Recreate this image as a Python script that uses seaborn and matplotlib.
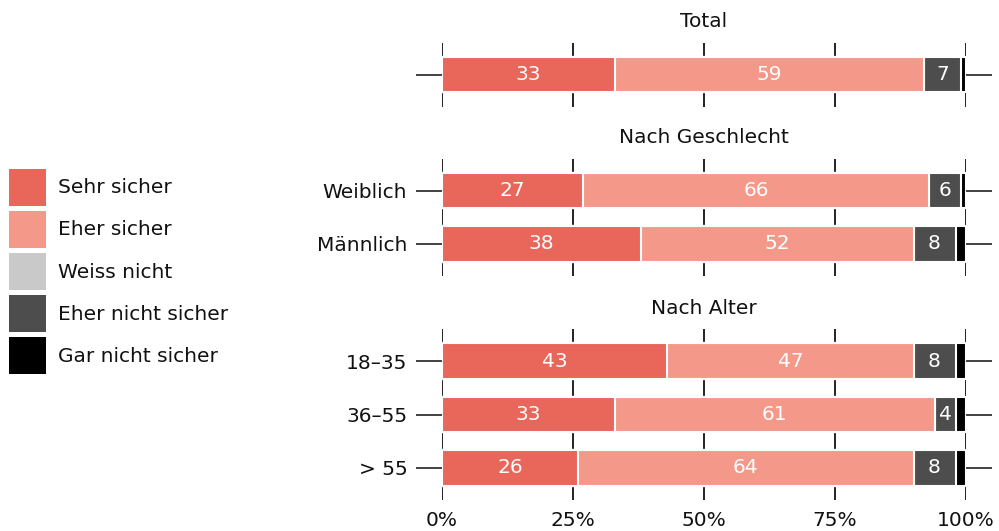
import pandas as pd
import matplotlib.pyplot as plt
import seaborn as sns
from matplotlib.patches import Patch

# data
categories = ["Sehr sicher", "Eher sicher", "Weiss nicht", "Eher nicht sicher", "Gar nicht sicher"]
colors = ["#E8665A", "#F4998A", "#C9C9C9", "#4D4D4D", "#000000"]

panel_titles = ["Total", "Nach Geschlecht", "Nach Alter"]
panel_rows = [
    ["Total"],
    ["Weiblich", "Männlich"],
    ["18–35", "36–55", "> 55"],
]
sehr_sicher = [[33], [27, 38], [43, 33, 26]]
eher_sicher = [[59], [66, 52], [47, 61, 64]]
weiss_nicht = [[0], [0, 0], [0, 0, 0]]
eher_nicht = [[7], [6, 8], [8, 4, 8]]
gar_nicht = [[1], [1, 2], [2, 2, 2]]

x_ticks = [0, 25, 50, 75, 100]
x_ticklabels = ["0%", "25%", "50%", "75%", "100%"]

FS = 14.5


def setup_plot_style():
    sns.set_theme(style="white")
    plt.rcParams.update({
        "font.family": ["DejaVu Sans"],
        "font.size": FS,
        "text.color": "#111111",
        "xtick.color": "#111111",
        "ytick.color": "#111111",
    })


def draw_panel(ax, i, show_xlabels):
    df = pd.DataFrame({
        "row": panel_rows[i],
        categories[0]: sehr_sicher[i],
        categories[1]: eher_sicher[i],
        categories[2]: weiss_nicht[i],
        categories[3]: eher_nicht[i],
        categories[4]: gar_nicht[i],
    })
    cum = df[categories].cumsum(axis=1)
    # draw cumulative bars from the longest to the shortest
    for cat, col in reversed(list(zip(categories, colors))):
        sns.barplot(data=cum.assign(row=df["row"]), x=cat, y="row", orient="y",
                    color=col, saturation=1, width=0.66, edgecolor="white",
                    linewidth=1.5, ax=ax, zorder=3)
    # value labels
    for r in range(len(df)):
        start = 0
        for cat in categories:
            v = df.loc[r, cat]
            if v >= 3:
                ax.text(start + v / 2, r, f"{v}", ha="center", va="center",
                        color="white", fontsize=FS, zorder=5)
            start += v

    n = len(df)
    ax.set_xlim(0, 100)
    ax.set_ylim(n - 0.4, -0.6)
    ax.set_xticks(x_ticks)
    ax.grid(axis="x", color="#222222", linewidth=1.4, zorder=0)
    ax.grid(axis="y", visible=False)
    ax.set_axisbelow(True)
    for s in ax.spines.values():
        s.set_visible(False)
    ax.set_xlabel("")
    ax.set_ylabel("")
    ax.tick_params(axis="y", left=True, right=True, length=19, width=1.2,
                   color="#222222", direction="out", pad=6, labelsize=FS)
    if i == 0:
        ax.set_yticklabels([""])
    ax.tick_params(axis="x", bottom=False, length=0, labelsize=FS, pad=8)
    if show_xlabels:
        ax.set_xticklabels(x_ticklabels)
    else:
        ax.set_xticklabels([])
    ax.set_title(panel_titles[i], fontsize=FS, pad=11)


def create_plot():
    setup_plot_style()
    fig = plt.figure(figsize=(9.99, 5.31), dpi=100)
    W, H = 999.0, 531.0
    left, right = 442 / W, 966 / W
    # (top, bottom) in pixels for each panel
    spans = [(42.5, 106.5), (158.5, 276.0), (329.0, 500.0)]
    for i, (top, bot) in enumerate(spans):
        ax = fig.add_axes([left, 1 - bot / H, right - left, (bot - top) / H])
        draw_panel(ax, i, show_xlabels=(i == 2))

    handles = [Patch(facecolor=c, edgecolor="none", label=l) for c, l in zip(colors, categories)]
    fig.legend(handles=handles, loc="center left", bbox_to_anchor=(0.0, 0.489),
               frameon=False, fontsize=FS, handlelength=1.85, handleheight=2.45,
               handletextpad=0.6, labelspacing=0.25, borderaxespad=0.25,
               borderpad=0.2)

    fig.savefig("out.png", dpi=100)
    plt.close(fig)


if __name__ == "__main__":
    create_plot()
